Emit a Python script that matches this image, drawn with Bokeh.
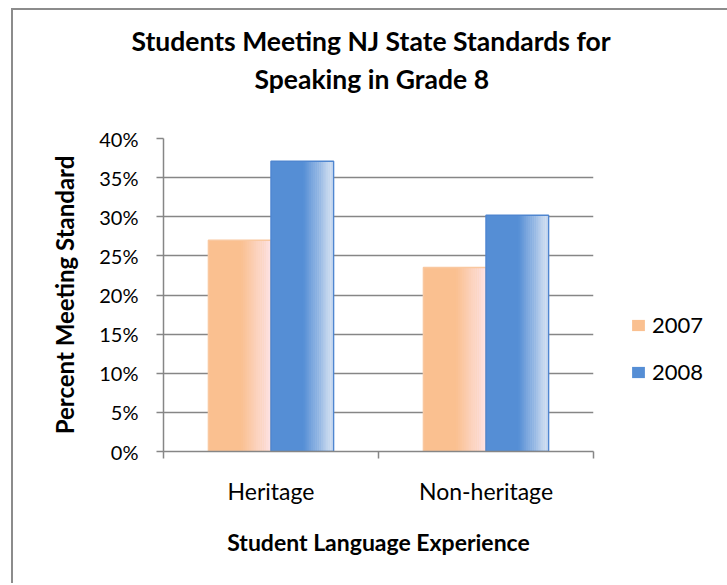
import numpy as np
from bokeh.plotting import figure
from bokeh.models import (Range1d, FixedTicker, PrintfTickFormatter, Legend, LegendItem, Title)
from bokeh.embed import file_html
from bokeh.resources import INLINE

# ---- data ----
categories = ["Heritage", "Non-heritage"]
years = ["2007", "2008"]
values_2007 = [27.0, 23.5]
values_2008 = [37.1, 30.2]
y_ticks = [0, 5, 10, 15, 20, 25, 30, 35, 40]

TITLE_LINES = ["Students Meeting NJ State Standards for", "Speaking in Grade 8"]
Y_LABEL = "Percent Meeting Standard"
X_LABEL = "Student Language Experience"

FONT = "Lato"
BAR_W = 0.291

p = figure(frame_width=430, frame_height=313, output_backend="svg", toolbar_location=None,
           x_range=Range1d(0, len(categories)), y_range=Range1d(0, 40),
           min_border_left=150, min_border_right=132, min_border_top=128,
           min_border_bottom=132, outline_line_color=None, title=None)
p.styles = {"border-left": "2px solid #8c8c8c", "border-top": "2px solid #8c8c8c",
            "margin-left": "11px", "margin-top": "8px"}

# spacer between frame and title block (first added sits closest to the frame)
p.add_layout(Title(text=" ", text_font_size="2px", standoff=37), "above")
for line, standoff, off in ((TITLE_LINES[1], 5, 91), (TITLE_LINES[0], 4, -32)):
    p.add_layout(Title(text=line, align="left", text_font=FONT, text_font_style="bold",
                       text_font_size="26.5px", text_color="#000000", offset=off,
                       standoff=standoff), "above")

cx = np.arange(len(categories)) + 0.5
series = [
    (years[0], values_2007, cx - BAR_W / 2, "#FAC090", "#FDE3E6", "#F9C8A0"),
    (years[1], values_2008, cx + BAR_W / 2, "#558ED5", "#DCE6F4", "#4F86D0"),
]

def mix(c1, c2, t):
    a = [int(c1[i:i + 2], 16) for i in (1, 3, 5)]
    b = [int(c2[i:i + 2], 16) for i in (1, 3, 5)]
    return "#%02x%02x%02x" % tuple(int(round(a[k] + (b[k] - a[k]) * t)) for k in range(3))

legend_items = []
N = 16
g0 = 0.52
for name, vals, xs, base, light, edge in series:
    r = p.vbar(x=xs, top=vals, width=BAR_W, bottom=0, fill_color=base, line_color=None)
    sw = BAR_W * (1 - g0) / N
    for k in range(N):
        t = (k + 0.5) / N
        off = -BAR_W / 2 + BAR_W * g0 + sw * (k + 0.5)
        p.vbar(x=xs + off, top=vals, width=sw * 1.15, bottom=0,
               fill_color=mix(base, light, t), line_color=None)
    p.vbar(x=xs, top=vals, width=BAR_W, bottom=0, fill_alpha=0,
           line_color=edge, line_width=1.5)
    legend_items.append(LegendItem(label=name, renderers=[r]))

# axes
p.xaxis.ticker = FixedTicker(ticks=list(cx), minor_ticks=list(range(len(categories) + 1)))
p.xaxis.major_label_overrides = {float(c): lab for c, lab in zip(cx, categories)}
p.xaxis.major_tick_line_color = None
p.xaxis.minor_tick_line_color = "#868686"
p.xaxis.minor_tick_line_width = 1.5
p.xaxis.minor_tick_out = 7
p.xaxis.minor_tick_in = 0
p.xaxis.axis_line_color = "#868686"
p.xaxis.axis_line_width = 1.5
p.xaxis.major_label_text_font = FONT
p.xaxis.major_label_text_font_size = "23px"
p.xaxis.major_label_text_color = "#000000"
p.xaxis.major_label_standoff = 18
p.xaxis.axis_label = X_LABEL
p.xaxis.axis_label_text_font = FONT
p.xaxis.axis_label_text_font_style = "bold"
p.xaxis.axis_label_text_font_size = "23px"
p.xaxis.axis_label_text_color = "#000000"
p.xaxis.axis_label_standoff = 20

p.yaxis.ticker = FixedTicker(ticks=y_ticks)
p.yaxis.formatter = PrintfTickFormatter(format="%d%%")
p.yaxis.minor_tick_line_color = None
p.yaxis.major_tick_line_color = "#868686"
p.yaxis.major_tick_line_width = 1.5
p.yaxis.major_tick_out = 7
p.yaxis.major_tick_in = 0
p.yaxis.axis_line_color = "#868686"
p.yaxis.axis_line_width = 1.5
p.yaxis.major_label_text_font = FONT
p.yaxis.major_label_text_font_size = "20px"
p.yaxis.major_label_text_color = "#000000"
p.yaxis.major_label_standoff = 18
p.yaxis.axis_label = Y_LABEL
p.yaxis.axis_label_text_font = FONT
p.yaxis.axis_label_text_font_style = "bold"
p.yaxis.axis_label_text_font_size = "24px"
p.yaxis.axis_label_text_color = "#000000"
p.yaxis.axis_label_standoff = 17

p.xgrid.grid_line_color = None
p.ygrid.ticker = FixedTicker(ticks=y_ticks)
p.ygrid.grid_line_color = "#868686"
p.ygrid.grid_line_width = 1.5

legend = Legend(items=legend_items, location=(37, 66), orientation="vertical",
                label_text_font=FONT, label_text_font_size="22px", label_text_color="#000000",
                glyph_width=16, glyph_height=14, label_height=20, spacing=20,
                label_standoff=6, border_line_color=None, background_fill_alpha=0,
                padding=0, margin=0)
p.add_layout(legend, "right")

open("out.html", "w").write(file_html(p, INLINE))
